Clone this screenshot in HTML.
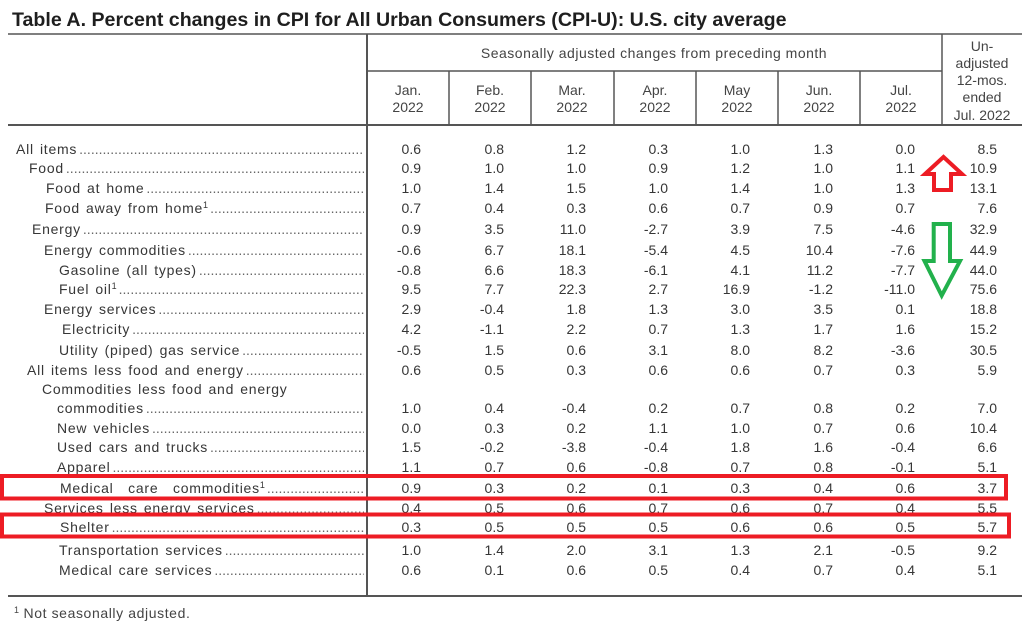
<!DOCTYPE html>
<html><head><meta charset="utf-8"><style>
body{margin:0;background:#fff}
#c{position:relative;width:1024px;height:627px;overflow:hidden;background:#fff;font-family:"Liberation Sans",Arial,sans-serif;color:#363636}
.t{position:absolute;font-size:14px;line-height:14px;white-space:nowrap}
.r{position:absolute;left:0;width:1024px;height:14px}
.r>div{position:absolute;top:0;font-size:14px;line-height:14px;white-space:nowrap}
.r>div.l{top:-2px;line-height:18px;height:18px}
.l{letter-spacing:.75px;word-spacing:1.5px;overflow:hidden}
.n{width:60px;text-align:right}
.d{color:#666;letter-spacing:0;padding-left:2px}
.s{font-size:9px;position:relative;top:-5px;letter-spacing:0;line-height:0}
.c1{left:361px}.c2{left:444px}.c3{left:526px}.c4{left:608px}.c5{left:690px}.c6{left:773px}.c7{left:855px}.c8{left:937px}
.h{width:120px;text-align:center}
svg{position:absolute;left:0;top:0}
</style></head><body><div id="c">
<div class="t" style="left:12px;top:10.7px;font-size:19.6px;line-height:19.6px;font-weight:bold;color:#1e1e1e">Table A. Percent changes in CPI for All Urban Consumers (CPI-U): U.S. city average</div>

<div class="t" style="left:454px;top:46.2px;width:400px;text-align:center;letter-spacing:.5px;color:#444">Seasonally adjusted changes from preceding month</div>

<div class="t h" style="left:348px;top:83.2px;color:#444">Jan.</div><div class="t h" style="left:348px;top:100.2px;color:#444">2022</div>
<div class="t h" style="left:430px;top:83.2px;color:#444">Feb.</div><div class="t h" style="left:430px;top:100.2px;color:#444">2022</div>
<div class="t h" style="left:512px;top:83.2px;color:#444">Mar.</div><div class="t h" style="left:512px;top:100.2px;color:#444">2022</div>
<div class="t h" style="left:595px;top:83.2px;color:#444">Apr.</div><div class="t h" style="left:595px;top:100.2px;color:#444">2022</div>
<div class="t h" style="left:677px;top:83.2px;color:#444">May</div><div class="t h" style="left:677px;top:100.2px;color:#444">2022</div>
<div class="t h" style="left:759px;top:83.2px;color:#444">Jun.</div><div class="t h" style="left:759px;top:100.2px;color:#444">2022</div>
<div class="t h" style="left:841px;top:83.2px;color:#444">Jul.</div><div class="t h" style="left:841px;top:100.2px;color:#444">2022</div>

<div class="t h" style="left:922px;top:38.7px;color:#444">Un-</div>
<div class="t h" style="left:922px;top:55.7px;color:#444">adjusted</div>
<div class="t h" style="left:922px;top:73.2px;color:#444">12-mos.</div>
<div class="t h" style="left:922px;top:90.2px;color:#444">ended</div>
<div class="t h" style="left:922px;top:107.7px;color:#444">Jul. 2022</div>

<div class="r" style="top:141.6px"><div class="l" style="left:16px;width:348px">All items<span class="d">....................................................................................................</span></div><div class="n c1">0.6</div><div class="n c2">0.8</div><div class="n c3">1.2</div><div class="n c4">0.3</div><div class="n c5">1.0</div><div class="n c6">1.3</div><div class="n c7">0.0</div><div class="n c8">8.5</div></div>
<div class="r" style="top:161.4px"><div class="l" style="left:29px;width:335px">Food<span class="d">....................................................................................................</span></div><div class="n c1">0.9</div><div class="n c2">1.0</div><div class="n c3">1.0</div><div class="n c4">0.9</div><div class="n c5">1.2</div><div class="n c6">1.0</div><div class="n c7">1.1</div><div class="n c8">10.9</div></div>
<div class="r" style="top:181.4px"><div class="l" style="left:46px;width:318px">Food at home<span class="d">....................................................................................................</span></div><div class="n c1">1.0</div><div class="n c2">1.4</div><div class="n c3">1.5</div><div class="n c4">1.0</div><div class="n c5">1.4</div><div class="n c6">1.0</div><div class="n c7">1.3</div><div class="n c8">13.1</div></div>
<div class="r" style="top:200.6px"><div class="l" style="left:45px;width:319px">Food away from home<span class="s">1</span><span class="d">....................................................................................................</span></div><div class="n c1">0.7</div><div class="n c2">0.4</div><div class="n c3">0.3</div><div class="n c4">0.6</div><div class="n c5">0.7</div><div class="n c6">0.9</div><div class="n c7">0.7</div><div class="n c8">7.6</div></div>
<div class="r" style="top:222.1px"><div class="l" style="left:32px;width:332px">Energy<span class="d">....................................................................................................</span></div><div class="n c1">0.9</div><div class="n c2">3.5</div><div class="n c3">11.0</div><div class="n c4">-2.7</div><div class="n c5">3.9</div><div class="n c6">7.5</div><div class="n c7">-4.6</div><div class="n c8">32.9</div></div>
<div class="r" style="top:243.1px"><div class="l" style="left:44px;width:320px">Energy commodities<span class="d">....................................................................................................</span></div><div class="n c1">-0.6</div><div class="n c2">6.7</div><div class="n c3">18.1</div><div class="n c4">-5.4</div><div class="n c5">4.5</div><div class="n c6">10.4</div><div class="n c7">-7.6</div><div class="n c8">44.9</div></div>
<div class="r" style="top:263.1px"><div class="l" style="left:59px;width:305px">Gasoline (all types)<span class="d">....................................................................................................</span></div><div class="n c1">-0.8</div><div class="n c2">6.6</div><div class="n c3">18.3</div><div class="n c4">-6.1</div><div class="n c5">4.1</div><div class="n c6">11.2</div><div class="n c7">-7.7</div><div class="n c8">44.0</div></div>
<div class="r" style="top:282.1px"><div class="l" style="left:59px;width:305px">Fuel oil<span class="s">1</span><span class="d">....................................................................................................</span></div><div class="n c1">9.5</div><div class="n c2">7.7</div><div class="n c3">22.3</div><div class="n c4">2.7</div><div class="n c5">16.9</div><div class="n c6">-1.2</div><div class="n c7">-11.0</div><div class="n c8">75.6</div></div>
<div class="r" style="top:302.1px"><div class="l" style="left:44px;width:320px">Energy services<span class="d">....................................................................................................</span></div><div class="n c1">2.9</div><div class="n c2">-0.4</div><div class="n c3">1.8</div><div class="n c4">1.3</div><div class="n c5">3.0</div><div class="n c6">3.5</div><div class="n c7">0.1</div><div class="n c8">18.8</div></div>
<div class="r" style="top:322.1px"><div class="l" style="left:62px;width:302px">Electricity<span class="d">....................................................................................................</span></div><div class="n c1">4.2</div><div class="n c2">-1.1</div><div class="n c3">2.2</div><div class="n c4">0.7</div><div class="n c5">1.3</div><div class="n c6">1.7</div><div class="n c7">1.6</div><div class="n c8">15.2</div></div>
<div class="r" style="top:342.6px"><div class="l" style="left:59px;width:305px">Utility (piped) gas service<span class="d">....................................................................................................</span></div><div class="n c1">-0.5</div><div class="n c2">1.5</div><div class="n c3">0.6</div><div class="n c4">3.1</div><div class="n c5">8.0</div><div class="n c6">8.2</div><div class="n c7">-3.6</div><div class="n c8">30.5</div></div>
<div class="r" style="top:362.6px"><div class="l" style="left:27px;width:337px">All items less food and energy<span class="d">....................................................................................................</span></div><div class="n c1">0.6</div><div class="n c2">0.5</div><div class="n c3">0.3</div><div class="n c4">0.6</div><div class="n c5">0.6</div><div class="n c6">0.7</div><div class="n c7">0.3</div><div class="n c8">5.9</div></div>
<div class="r" style="top:382.4px"><div class="l" style="left:42px;width:322px">Commodities less food and energy</div></div>
<div class="r" style="top:400.6px"><div class="l" style="left:57px;width:307px">commodities<span class="d">....................................................................................................</span></div><div class="n c1">1.0</div><div class="n c2">0.4</div><div class="n c3">-0.4</div><div class="n c4">0.2</div><div class="n c5">0.7</div><div class="n c6">0.8</div><div class="n c7">0.2</div><div class="n c8">7.0</div></div>
<div class="r" style="top:420.6px"><div class="l" style="left:57px;width:307px">New vehicles<span class="d">....................................................................................................</span></div><div class="n c1">0.0</div><div class="n c2">0.3</div><div class="n c3">0.2</div><div class="n c4">1.1</div><div class="n c5">1.0</div><div class="n c6">0.7</div><div class="n c7">0.6</div><div class="n c8">10.4</div></div>
<div class="r" style="top:440.1px"><div class="l" style="left:57px;width:307px">Used cars and trucks<span class="d">....................................................................................................</span></div><div class="n c1">1.5</div><div class="n c2">-0.2</div><div class="n c3">-3.8</div><div class="n c4">-0.4</div><div class="n c5">1.8</div><div class="n c6">1.6</div><div class="n c7">-0.4</div><div class="n c8">6.6</div></div>
<div class="r" style="top:460.1px"><div class="l" style="left:57px;width:307px">Apparel<span class="d">....................................................................................................</span></div><div class="n c1">1.1</div><div class="n c2">0.7</div><div class="n c3">0.6</div><div class="n c4">-0.8</div><div class="n c5">0.7</div><div class="n c6">0.8</div><div class="n c7">-0.1</div><div class="n c8">5.1</div></div>
<div class="r" style="top:481.1px"><div class="l" style="left:60px;width:304px;word-spacing:10px">Medical care commodities<span class="s">1</span><span class="d">....................................................................................................</span></div><div class="n c1">0.9</div><div class="n c2">0.3</div><div class="n c3">0.2</div><div class="n c4">0.1</div><div class="n c5">0.3</div><div class="n c6">0.4</div><div class="n c7">0.6</div><div class="n c8">3.7</div></div>
<div class="r" style="top:500.6px"><div class="l" style="left:44px;width:320px">Services less energy services<span class="d">....................................................................................................</span></div><div class="n c1">0.4</div><div class="n c2">0.5</div><div class="n c3">0.6</div><div class="n c4">0.7</div><div class="n c5">0.6</div><div class="n c6">0.7</div><div class="n c7">0.4</div><div class="n c8">5.5</div></div>
<div class="r" style="top:520.1px"><div class="l" style="left:60px;width:304px">Shelter<span class="d">....................................................................................................</span></div><div class="n c1">0.3</div><div class="n c2">0.5</div><div class="n c3">0.5</div><div class="n c4">0.5</div><div class="n c5">0.6</div><div class="n c6">0.6</div><div class="n c7">0.5</div><div class="n c8">5.7</div></div>
<div class="r" style="top:542.6px"><div class="l" style="left:59px;width:305px">Transportation services<span class="d">....................................................................................................</span></div><div class="n c1">1.0</div><div class="n c2">1.4</div><div class="n c3">2.0</div><div class="n c4">3.1</div><div class="n c5">1.3</div><div class="n c6">2.1</div><div class="n c7">-0.5</div><div class="n c8">9.2</div></div>
<div class="r" style="top:562.6px"><div class="l" style="left:59px;width:305px">Medical care services<span class="d">....................................................................................................</span></div><div class="n c1">0.6</div><div class="n c2">0.1</div><div class="n c3">0.6</div><div class="n c4">0.5</div><div class="n c5">0.4</div><div class="n c6">0.7</div><div class="n c7">0.4</div><div class="n c8">5.1</div></div>

<div class="t" style="left:14px;top:606px;letter-spacing:.6px;color:#444"><span class="s">1</span> Not seasonally adjusted.</div>

<svg width="1024" height="627" viewBox="0 0 1024 627">
<g stroke="#555" fill="none">
<line x1="8" y1="34" x2="1022" y2="34" stroke-width="1.5"/>
<line x1="8" y1="125" x2="1022" y2="125" stroke-width="2"/>
<line x1="8" y1="596" x2="1022" y2="596" stroke-width="2"/>
<line x1="367" y1="34" x2="367" y2="596" stroke-width="2"/>
<line x1="367" y1="71" x2="942" y2="71" stroke-width="1.5"/>
<line x1="942" y1="34" x2="942" y2="125" stroke-width="1.5"/>
<line x1="449" y1="71" x2="449" y2="125" stroke-width="1.5"/>
<line x1="531" y1="71" x2="531" y2="125" stroke-width="1.5"/>
<line x1="614" y1="71" x2="614" y2="125" stroke-width="1.5"/>
<line x1="696" y1="71" x2="696" y2="125" stroke-width="1.5"/>
<line x1="778" y1="71" x2="778" y2="125" stroke-width="1.5"/>
<line x1="860" y1="71" x2="860" y2="125" stroke-width="1.5"/>
</g>
<path d="M943.5,157 L962,174 L951,174 L951,190 L934,190 L934,174 L925,174 Z" fill="none" stroke="#ED1C24" stroke-width="4" stroke-linejoin="miter"/>
<path d="M933.7,224 L950,224 L950,261 L960,261 L941.7,295.5 L924.5,261 L933.7,261 Z" fill="none" stroke="#22B14C" stroke-width="4" stroke-linejoin="miter"/>
<rect x="2" y="476" width="1004" height="22.5" fill="none" stroke="#ED1C24" stroke-width="4"/>
<rect x="2" y="514.5" width="1007" height="22" fill="none" stroke="#ED1C24" stroke-width="4"/>
</svg>
</div></body></html>
